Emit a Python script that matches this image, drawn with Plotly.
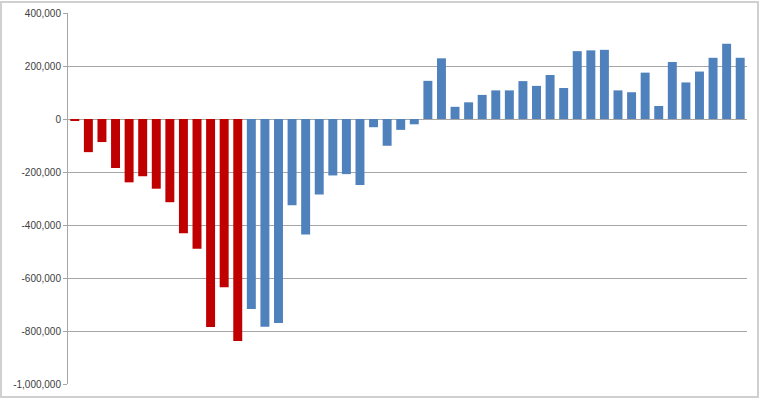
import plotly.graph_objects as go

red_values = [-5000, -125000, -87000, -185000, -239000, -216000, -263000,
              -314000, -431000, -490000, -785000, -635000, -838000]
blue_values = [-717000, -784000, -770000, -325000, -436000, -285000, -213000,
               -208000, -249000, -31000, -101000, -41000, -20000, 144000,
               229000, 46000, 63000, 91000, 108000, 108000, 143000, 125000,
               166000, 117000, 256000, 259000, 261000, 108000, 101000, 175000,
               49000, 215000, 138000, 179000, 231000, 284000, 231000]
tick_vals = [400000, 200000, 0, -200000, -400000, -600000, -800000, -1000000]
tick_text = ["400,000", "200,000", "0", "-200,000", "-400,000", "-600,000",
             "-800,000", "-1,000,000"]

red_x = list(range(1, len(red_values) + 1))
blue_x = list(range(len(red_values) + 1, len(red_values) + len(blue_values) + 1))
n_total = len(red_values) + len(blue_values)

fig = go.Figure()
fig.add_trace(go.Bar(x=red_x, y=red_values, marker=dict(color="#C00000", line=dict(width=0)),
                     showlegend=False))
fig.add_trace(go.Bar(x=blue_x, y=blue_values, marker=dict(color="#4F81BD", line=dict(width=0)),
                     showlegend=False))

W, H = 760, 399
ml, mr, mt, mb = 68, 13, 13, 15
pw, ph = W - ml - mr, H - mt - mb

fig.update_layout(
    width=W, height=H,
    margin=dict(l=ml, r=mr, t=mt, b=mb, autoexpand=False),
    paper_bgcolor="white", plot_bgcolor="white",
    bargap=0.34,
    barmode="overlay",
    font=dict(family="Liberation Sans, Arial, sans-serif", size=10, color="#404040"),
    xaxis=dict(range=[0.5, n_total + 0.5], showticklabels=False, showgrid=False,
               zeroline=False, showline=False, ticks="", automargin=False),
    yaxis=dict(range=[-1000000, 400000], tickvals=tick_vals, ticktext=tick_text,
               showgrid=True, gridcolor="#a6a6a6", gridwidth=1,
               zeroline=True, zerolinecolor="#a6a6a6", zerolinewidth=1,
               showline=True, linecolor="#a6a6a6", linewidth=1,
               ticks="outside", ticklen=4, tickcolor="#a6a6a6", automargin=False,
               tickfont=dict(size=10, color="#404040")),
    shapes=[dict(type="rect", xref="paper", yref="paper",
                 x0=(1 - ml) / pw, x1=(758 - ml) / pw,
                 y0=(H - mb - 397) / ph,
                 y1=(H - mb - 2) / ph,
                 line=dict(color="#d0d0d0", width=2), layer="below")],
)

fig.write_html("out.html")
